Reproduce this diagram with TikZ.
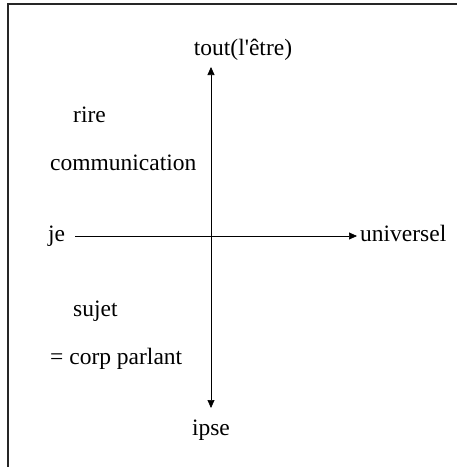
\documentclass[tikz,border=0pt]{standalone}
\usepackage{fontspec}
\setmainfont{Liberation Serif}[Ligatures=TeXOff]
\usetikzlibrary{arrows.meta}
\begin{document}
\begin{tikzpicture}[x=1pt,y=-1pt,
  lbl/.style={inner sep=0pt,font=\fontsize{23.5}{26}\selectfont},
  frameline/.style={line width=1.1pt,black!85},
  axis/.style={line width=0.7pt,{Triangle[length=8pt,width=7pt]}-{Triangle[length=8pt,width=7pt]}},
  haxis/.style={line width=0.7pt,-{Triangle[length=8pt,width=7pt]}}]
\useasboundingbox (0,0) rectangle (457,467);
\fill[white] (0,0) rectangle (457,467);
% frame
\coordinate (ftl) at (8,4);
\coordinate (ftr) at (457,4);
\coordinate (fbl) at (8,467);
\draw[frameline] (ftr) -- (ftl) -- (fbl);
% labels
\node[lbl,anchor=base] (tout) at (243,55) {tout(l'être)};
\node[lbl,anchor=base] (ipse) at (211,435) {ipse};
\node[lbl,anchor=base west] (rire) at (73,122) {rire};
\node[lbl,anchor=base west] (comm) at (50,170) {communication};
\node[lbl,anchor=base west] (je) at (48,241) {je};
\node[lbl,anchor=base west] (univ) at (360,241) {universel};
\node[lbl,anchor=base west] (sujet) at (73,316) {sujet};
\node[lbl,anchor=base west] (corp) at (50,364) {= corp parlant};
% axes
\coordinate (vtop) at (211,67);
\coordinate (vbot) at (211,408);
\coordinate (hl) at (75,236);
\coordinate (hr) at (357,236);
\draw[axis] (vtop) -- (vbot);
\draw[haxis] (hl) -- (hr);
\end{tikzpicture}
\end{document}
